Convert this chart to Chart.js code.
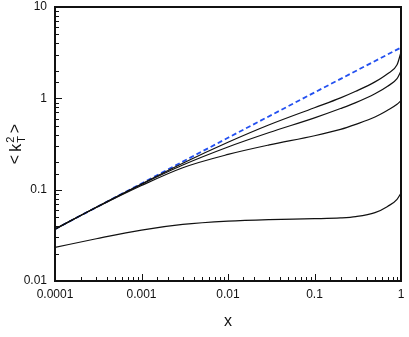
<!DOCTYPE html>
<html>
<head>
<meta charset="UTF-8">
<title>kT2 vs x</title>
<script src="https://cdn.jsdelivr.net/npm/chart.js"></script>
<style>
  html, body { margin: 0; padding: 0; background: #fff; }
  #wrap { width: 409px; height: 337px; }
</style>
</head>
<body>
<div id="wrap"><canvas id="chart"></canvas></div>
<script>
// values
const xValues = [0.0001, 0.0003, 0.001, 0.003, 0.01, 0.03, 0.1, 0.2, 0.3, 0.5, 0.7, 0.9, 1];
const curve1 = [0.037, 0.0643, 0.1156, 0.1945, 0.33, 0.513, 0.789, 1.012, 1.194, 1.514, 1.862, 2.33, 3.2];
const curve2 = [0.037, 0.0643, 0.1143, 0.186, 0.293, 0.422, 0.611, 0.773, 0.897, 1.122, 1.358, 1.644, 1.99];
const curve3 = [0.037, 0.0637, 0.111, 0.174, 0.243, 0.309, 0.389, 0.457, 0.519, 0.624, 0.741, 0.861, 0.944];
const curve4 = [0.0233, 0.029, 0.0361, 0.0416, 0.0452, 0.047, 0.0481, 0.0491, 0.0507, 0.0561, 0.0656, 0.0785, 0.092];

const dashedX = [0.0001, 0.001, 0.01, 0.1, 1];
const dashedY = [0.037, 0.117, 0.37, 1.16, 3.6];

const xTickLabels = ['0.0001', '0.001', '0.01', '0.1', '1'];
const yTickLabels = ['0.01', '0.1', '1', '10'];

function pts(xs, ys) {
    return xs.map((x, i) => ({ x: x, y: ys[i] }));
}

function isDecade(v) {
    const l = Math.log10(v);
    return Math.abs(l - Math.round(l)) < 1e-6;
}

function blackLine(data) {
    return {
        data: pts(xValues, data),
        borderColor: '#111',
        borderWidth: 1.2,
        pointRadius: 0,
        showLine: true,
        cubicInterpolationMode: 'monotone'
    };
}

// inward tick marks, frame and axis titles
const decor = {
    id: 'decor',
    afterDraw(chart) {
        const ctx = chart.ctx;
        const a = chart.chartArea;
        const xs = chart.scales.x, ys = chart.scales.y;
        ctx.save();
        ctx.strokeStyle = '#111';
        ctx.lineWidth = 1;
        xs.ticks.forEach(t => {
            const px = Math.round(xs.getPixelForValue(t.value)) + 0.5;
            const len = isDecade(t.value) ? 7 : 4;
            ctx.beginPath();
            ctx.moveTo(px, a.bottom);
            ctx.lineTo(px, a.bottom - len);
            ctx.stroke();
        });
        ys.ticks.forEach(t => {
            const py = Math.round(ys.getPixelForValue(t.value)) + 0.5;
            const len = isDecade(t.value) ? 7 : 4;
            ctx.beginPath();
            ctx.moveTo(a.left, py);
            ctx.lineTo(a.left + len, py);
            ctx.stroke();
        });
        ctx.lineWidth = 2;
        ctx.strokeRect(a.left, a.top, a.right - a.left, a.bottom - a.top);

        // x title
        ctx.fillStyle = '#111';
        ctx.font = '16px Arial';
        ctx.textAlign = 'center';
        ctx.textBaseline = 'middle';
        ctx.fillText('x', (a.left + a.right) / 2, 322);

        // y title  < k^2_T >
        ctx.translate(21, (a.top + a.bottom) / 2);
        ctx.rotate(-Math.PI / 2);
        ctx.textAlign = 'left';
        ctx.textBaseline = 'alphabetic';
        const big = '16px Arial', small = '11px Arial';
        ctx.font = big;
        const wL = ctx.measureText('<').width;
        const wK = ctx.measureText('k').width;
        const wR = ctx.measureText('>').width;
        ctx.font = small;
        const wS = Math.max(ctx.measureText('2').width, ctx.measureText('T').width);
        const gap = 3;
        const total = wL + gap + wK + 1 + wS + gap + wR;
        let cx = -total / 2;
        ctx.font = big;
        ctx.fillText('<', cx, -1); cx += wL + gap;
        ctx.fillText('k', cx, 0); cx += wK + 1;
        ctx.font = small;
        ctx.fillText('2', cx, -7);
        ctx.fillText('T', cx, 4);
        cx += wS + gap;
        ctx.font = big;
        ctx.fillText('>', cx, -1);
        ctx.restore();
    }
};

new Chart(document.getElementById('chart'), {
    type: 'scatter',
    data: {
        datasets: [
            blackLine(curve1),
            blackLine(curve2),
            blackLine(curve3),
            blackLine(curve4),
            {
                data: pts(dashedX, dashedY),
                borderColor: '#2350f0',
                borderWidth: 1.8,
                borderDash: [5, 3],
                pointRadius: 0,
                showLine: true
            }
        ]
    },
    options: {
        responsive: true,
        maintainAspectRatio: false,
        animation: false,
        layout: { padding: { top: 7, right: 8, left: 0, bottom: 0 } },
        plugins: { legend: { display: false }, tooltip: { enabled: false } },
        scales: {
            x: {
                type: 'logarithmic',
                min: 0.0001,
                max: 1,
                grid: { display: false, drawTicks: false },
                border: { display: false },
                afterFit(s) { s.height = 56; s.paddingLeft = 0; s.paddingRight = 0; },
                ticks: {
                    autoSkip: false,
                    maxRotation: 0,
                    padding: 6,
                    color: '#111',
                    font: { family: 'Arial', size: 12 },
                    callback(v) {
                        if (!isDecade(v)) return '';
                        return xTickLabels[Math.round(Math.log10(v)) + 4];
                    }
                }
            },
            y: {
                type: 'logarithmic',
                min: 0.01,
                max: 10,
                grid: { display: false, drawTicks: false },
                border: { display: false },
                afterFit(s) { s.width = 55; s.paddingTop = 0; s.paddingBottom = 0; },
                ticks: {
                    autoSkip: false,
                    padding: 8,
                    color: '#111',
                    font: { family: 'Arial', size: 12 },
                    callback(v) {
                        if (!isDecade(v)) return '';
                        return yTickLabels[Math.round(Math.log10(v)) + 2];
                    }
                }
            }
        }
    },
    plugins: [decor]
});
</script>
</body>
</html>
